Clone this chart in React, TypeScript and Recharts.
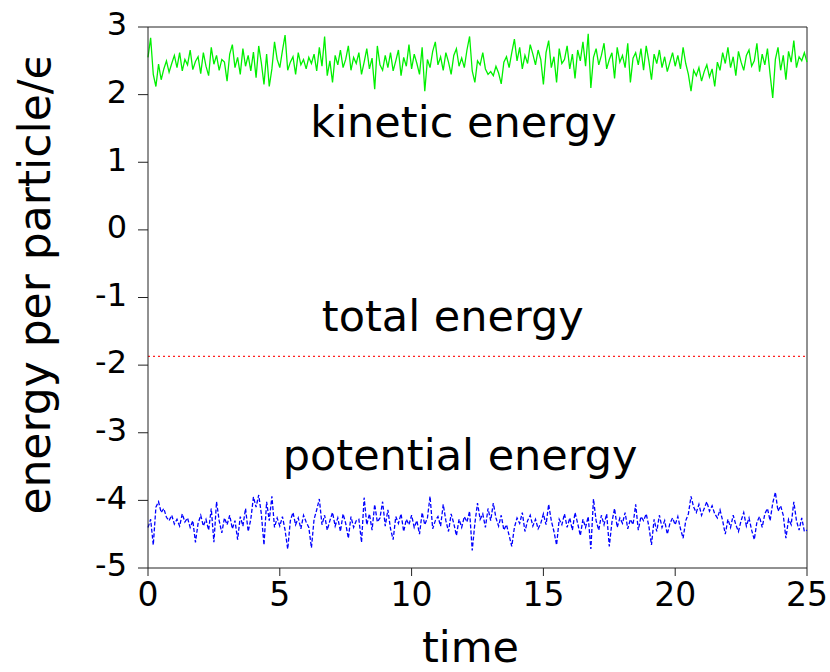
import { LineChart, Line, XAxis, YAxis, ReferenceDot, ReferenceLine } from "recharts";

// kinetic energy per particle, sampled every TIME_STEP
const KINETIC = [
  2.55, 2.84, 2.30, 2.12, 2.45, 2.22, 2.38, 2.50, 2.33, 2.46,
  2.58, 2.40, 2.62, 2.35, 2.52, 2.44, 2.66, 2.37, 2.49, 2.56,
  2.31, 2.62, 2.42, 2.28, 2.70, 2.45, 2.58, 2.36, 2.52, 2.48,
  2.20, 2.60, 2.74, 2.40, 2.55, 2.30, 2.68, 2.42, 2.58, 2.35,
  2.63, 2.25, 2.72, 2.47, 2.15, 2.60, 2.12, 2.38, 2.78, 2.52,
  2.40, 2.65, 2.88, 2.36, 2.48, 2.56, 2.30, 2.62, 2.44, 2.52,
  2.38, 2.55, 2.46, 2.60, 2.35, 2.70, 2.42, 2.86, 2.28, 2.50,
  2.18, 2.58, 2.44, 2.66, 2.40, 2.52, 2.72, 2.36, 2.55, 2.46,
  2.62, 2.30, 2.48, 2.68, 2.38, 2.54, 2.08, 2.72, 2.44, 2.36,
  2.58, 2.40, 2.62, 2.35, 2.50, 2.66, 2.28, 2.55, 2.42, 2.74,
  2.38, 2.60, 2.46, 2.30, 2.70, 2.05, 2.52, 2.40, 2.64, 2.78,
  2.44, 2.56, 2.36, 2.62, 2.48, 2.30, 2.58, 2.68, 2.42, 2.54,
  2.40, 2.66, 2.86, 2.35, 2.18, 2.50, 2.44, 2.62, 2.38, 2.30,
  2.34, 2.28, 2.42, 2.32, 2.16, 2.48, 2.56, 2.40, 2.62, 2.82,
  2.50, 2.70, 2.38, 2.58, 2.46, 2.74, 2.60, 2.44, 2.66, 2.52,
  2.15, 2.62, 2.80, 2.40, 2.56, 2.18, 2.68, 2.46, 2.52, 2.72,
  2.38, 2.60, 2.24, 2.66, 2.50, 2.78, 2.42, 2.90, 2.10, 2.55,
  2.68, 2.44, 2.58, 2.76, 2.38, 2.52, 2.62, 2.24, 2.70, 2.48,
  2.58, 2.40, 2.76, 2.18, 2.54, 2.62, 2.44, 2.68, 2.36, 2.72,
  2.50, 2.22, 2.60, 2.46, 2.66, 2.40, 2.56, 2.34, 2.48, 2.62,
  2.42, 2.58, 2.38, 2.70, 2.46, 2.30, 2.05, 2.36, 2.28, 2.40,
  2.20, 2.34, 2.44, 2.26, 2.38, 2.12, 2.48, 2.36, 2.62, 2.46,
  2.70, 2.40, 2.56, 2.28, 2.64, 2.48, 2.36, 2.58, 2.66, 2.42,
  2.50, 2.76, 2.34, 2.60, 2.44, 2.68, 2.30, 1.95, 2.52, 2.70,
  2.36, 2.58, 2.22, 2.64, 2.48, 2.80, 2.40, 2.56, 2.50, 2.62,
  2.48,
];

// potential energy per particle, same sampling
const POTENTIAL = [
  -4.40, -4.28, -4.66, -4.10, -4.02, -4.18, -4.12, -4.25, -4.30, -4.22,
  -4.35, -4.28, -4.38, -4.20, -4.32, -4.26, -4.40, -4.30, -4.62, -4.34,
  -4.22, -4.38, -4.28, -4.44, -4.12, -4.62, -4.02, -4.30, -4.48, -4.26,
  -4.36, -4.22, -4.42, -4.30, -4.58, -4.24, -4.38, -4.12, -4.46, -4.28,
  -3.95, -4.10, -3.92, -4.20, -4.66, -4.02, -4.30, -3.94, -4.40, -4.26,
  -4.38, -4.24, -4.44, -4.72, -4.30, -4.18, -4.36, -4.26, -4.42, -4.22,
  -4.32, -4.40, -4.70, -4.28, -4.14, -3.98, -4.36, -4.22, -4.44, -4.30,
  -4.18, -4.38, -4.26, -4.46, -4.20, -4.34, -4.56, -4.24, -4.40, -4.30,
  -4.28, -4.62, -3.96, -4.36, -4.20, -4.44, -4.06, -4.32, -4.26, -4.02,
  -4.38, -4.14, -4.42, -4.58, -4.24, -4.34, -4.20, -4.46, -4.28, -4.36,
  -4.22, -4.40, -4.30, -4.50, -4.18, -4.36, -4.26, -3.94, -4.42, -4.30,
  -4.24, -4.38, -4.06, -4.30, -4.46, -4.20, -4.34, -4.52, -4.28, -4.40,
  -4.24, -4.32, -4.16, -4.74, -4.34, -4.04, -4.28, -4.20, -4.40, -4.12,
  -4.30, -4.04, -4.26, -4.38, -4.22, -4.44, -4.36, -4.52, -4.68, -4.40,
  -4.26, -4.34, -4.18, -4.46, -4.30, -4.22, -4.38, -4.28, -4.42, -4.34,
  -4.20, -4.36, -4.06, -4.30, -4.46, -4.66, -4.28, -4.36, -4.20, -4.40,
  -4.26, -4.44, -4.18, -4.34, -4.52, -4.28, -4.40, -4.24, -4.72, -3.98,
  -4.30, -4.44, -4.22, -4.36, -4.20, -4.68, -4.32, -4.12, -4.40, -4.26,
  -4.34, -4.18, -4.42, -4.28, -4.36, -4.06, -4.44, -4.24, -4.30, -4.20,
  -4.38, -4.66, -4.28, -4.46, -4.22, -4.40, -4.30, -4.50, -4.34, -4.26,
  -4.36, -4.24, -4.42, -4.56, -4.30, -4.20, -3.94, -4.10, -4.18, -4.06,
  -4.22, -4.12, -4.02, -4.16, -4.08, -4.20, -4.26, -4.14, -4.30, -4.50,
  -4.28, -4.40, -4.22, -4.36, -4.46, -4.30, -4.18, -4.38, -4.26, -4.44,
  -4.58, -4.32, -4.24, -4.40, -4.20, -4.12, -4.30, -4.04, -3.88, -4.16,
  -4.08, -4.22, -4.56, -4.28, -4.36, -4.02, -4.30, -4.44, -4.26, -4.46,
  -4.44,
];

const TOTAL_ENERGY = -1.87;
const TIME_STEP = 0.1;

const X_TICKS = [0, 5, 10, 15, 20, 25];
const Y_TICKS = [-5, -4, -3, -2, -1, 0, 1, 2, 3];

// text labels anchored (baseline, centred) in data coordinates
const NOTES = [
  { text: "kinetic energy", time: 11.97, energy: 1.37 },
  { text: "total energy", time: 11.56, energy: -1.49 },
  { text: "potential energy", time: 11.84, energy: -3.55 },
];

const FONT = "'DejaVu Sans', sans-serif";
const AXIS = "#222";

const data = KINETIC.map((k, i) => ({
  time: Math.round(i * TIME_STEP * 100) / 100,
  kinetic: k,
  potential: POTENTIAL[i],
  total: TOTAL_ENERGY,
}));

const noteLabel = (text: string) => (props: any) => {
  const vb = props.viewBox;
  return (
    <text
      x={vb.x + vb.width / 2}
      y={vb.y + vb.height / 2}
      textAnchor="middle"
      fontSize={43}
      fontFamily={FONT}
      fill="#000"
    >
      {text}
    </text>
  );
};

const yTitle = (props: any) => {
  const vb = props.viewBox;
  const cx = 50;
  const cy = vb.y + vb.height / 2 - 14;
  return (
    <text
      x={cx}
      y={cy}
      transform={`rotate(-90, ${cx}, ${cy})`}
      textAnchor="middle"
      fontSize={44}
      fontFamily={FONT}
      fill="#000"
    >
      energy per particle/ϵ
    </text>
  );
};

const xTitle = (props: any) => {
  const vb = props.viewBox;
  return (
    <text
      x={vb.x + vb.width / 2 - 7}
      y={vb.y + 94}
      textAnchor="middle"
      fontSize={43}
      fontFamily={FONT}
      fill="#000"
    >
      time
    </text>
  );
};

export default function App() {
  return (
    <div style={{ position: "absolute", left: 0, top: 0, width: 830, height: 672, background: "#fff" }}>
      <LineChart
        width={830}
        height={672}
        data={data}
        margin={{ top: 27, right: 23, bottom: 0, left: 0 }}
      >
        <XAxis
          dataKey="time"
          type="number"
          domain={[0, 25]}
          ticks={X_TICKS}
          interval={0}
          height={104}
          tickSize={8}
          tickMargin={7}
          stroke={AXIS}
          tick={{ fontSize: 33, fontFamily: FONT, fill: "#000" }}
          label={xTitle}
        />
        <YAxis
          type="number"
          domain={[-5, 3]}
          ticks={Y_TICKS}
          interval={0}
          width={148}
          tickSize={10}
          tickMargin={11}
          stroke={AXIS}
          tick={{ fontSize: 32, fontFamily: FONT, fill: "#000", dy: -3 }}
          label={yTitle}
        />
        <ReferenceLine y={3} stroke={AXIS} strokeWidth={1} />
        <ReferenceLine x={25} stroke={AXIS} strokeWidth={1} />
        <Line
          dataKey="kinetic"
          stroke="#00f000"
          strokeWidth={1.3}
          dot={false}
          isAnimationActive={false}
        />
        <Line
          dataKey="total"
          stroke="#ff2020"
          strokeWidth={1.2}
          strokeDasharray="2 3"
          dot={false}
          isAnimationActive={false}
        />
        <Line
          dataKey="potential"
          stroke="#0000ff"
          strokeWidth={1.3}
          strokeDasharray="4 2"
          dot={false}
          isAnimationActive={false}
        />
        {NOTES.map((n) => (
          <ReferenceDot
            key={n.text}
            x={n.time}
            y={n.energy}
            r={0}
            fill="none"
            stroke="none"
            label={noteLabel(n.text)}
          />
        ))}
      </LineChart>
    </div>
  );
}
